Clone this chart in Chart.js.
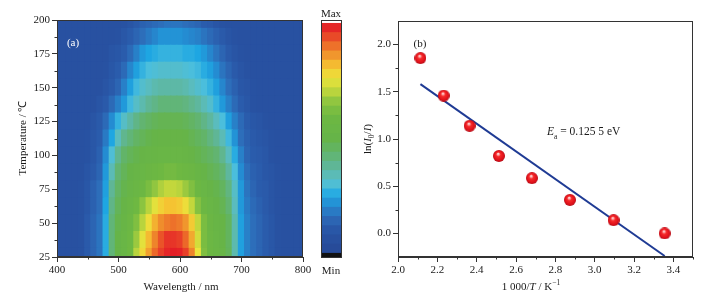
<!DOCTYPE html>
<html>
<head>
<meta charset="utf-8">
<script src="https://cdn.jsdelivr.net/npm/chart.js@4.4.1/dist/chart.umd.min.js"></script>
<style>
  html, body { margin: 0; padding: 0; background: #fff; }
  #wrap { position: relative; width: 705px; height: 299px; overflow: hidden;
          font-family: 'Liberation Serif', 'Times New Roman', serif; color: #1a1a1a; }
  #wrap canvas { position: absolute; }
  .lbl { position: absolute; white-space: nowrap; font-size: 11px; line-height: 1;
         transform: translate(-50%, -50%); }
  .rot { transform: translate(-50%, -50%) rotate(-90deg); }
  .left { transform: translate(0, -50%); font-size: 11.5px; }
  sub, sup { font-size: 7.5px; line-height: 0; }
</style>
</head>
<body>
<div id="wrap">
  <canvas id="heat" width="315" height="299" style="left:0;top:0"></canvas>
  <canvas id="cbar" width="21" height="299" style="left:321px;top:0"></canvas>
  <canvas id="arr" width="355" height="299" style="left:350px;top:0"></canvas>

  <div class="lbl rot" style="left:22px;top:138px">Temperature / ℃</div>
  <div class="lbl" style="left:181px;top:286px">Wavelength / nm</div>
  <div class="lbl" style="left:73px;top:42px;color:#fff">(a)</div>
  <div class="lbl" style="left:331px;top:13px">Max</div>
  <div class="lbl" style="left:331px;top:270px">Min</div>

  <div class="lbl rot" style="left:367px;top:139px">ln(<i>I</i><sub>0</sub>/<i>I</i>)</div>
  <div class="lbl" style="left:531px;top:286px">1 000/<i>T</i> / K<sup>−1</sup></div>
  <div class="lbl" style="left:420px;top:43px">(b)</div>
  <div class="lbl left" style="left:547px;top:132px"><i>E</i><sub>a</sub> = 0.125 5 eV</div>
</div>

<script>
// ---- (a) emission map: wavelength (nm) x temperature (°C), relative intensity 0..1
const wavelengths = [400, 410, 420, 430, 440, 450, 460, 470, 480, 490,
                     500, 510, 520, 530, 540, 550, 560, 570, 580, 590,
                     600, 610, 620, 630, 640, 650, 660, 670, 680, 690,
                     700, 710, 720, 730, 740, 750, 760, 770, 780, 790, 800];
const temps = [25, 37.5, 50, 62.5, 75, 87.5, 100, 112.5, 125, 137.5, 150, 162.5, 175, 187.5, 200];
const intensity = [
  [.07,.07,.07,.07,.08,.11,.14,.17,.26,.42, .50,.54,.60,.70,.78,.85,.91,.95,.98,1.0, .99,.95,.88,.76,.63,.58,.55,.52,.47,.35, .24,.19,.16,.14,.12,.10,.08,.07,.07,.07,.07],
  [.07,.07,.07,.07,.08,.11,.14,.17,.26,.42, .50,.54,.59,.67,.75,.82,.88,.93,.96,.96, .95,.91,.84,.73,.62,.57,.54,.51,.46,.35, .24,.19,.16,.14,.12,.10,.08,.07,.07,.07,.07],
  [.07,.07,.07,.07,.08,.11,.14,.17,.26,.42, .49,.53,.57,.63,.70,.77,.83,.87,.89,.90, .89,.86,.80,.71,.62,.56,.53,.51,.46,.35, .24,.19,.16,.14,.12,.10,.08,.07,.07,.07,.07],
  [.07,.07,.07,.07,.08,.10,.13,.16,.25,.40, .47,.51,.55,.60,.65,.70,.75,.79,.81,.81, .80,.77,.71,.64,.58,.54,.51,.48,.43,.33, .23,.18,.15,.13,.11,.09,.08,.07,.07,.07,.07],
  [.07,.07,.07,.07,.08,.10,.13,.16,.24,.38, .45,.49,.52,.55,.58,.62,.66,.69,.71,.71, .70,.67,.63,.58,.54,.51,.49,.46,.41,.32, .23,.17,.14,.12,.11,.09,.08,.07,.07,.07,.07],
  [.07,.07,.07,.07,.07,.09,.11,.14,.23,.34, .43,.47,.50,.52,.54,.56,.58,.60,.61,.61, .60,.58,.56,.53,.50,.48,.46,.43,.37,.29, .21,.16,.13,.12,.10,.09,.08,.07,.07,.07,.07],
  [.07,.07,.07,.07,.07,.08,.10,.13,.21,.30, .39,.44,.47,.49,.51,.52,.53,.54,.54,.54, .54,.53,.51,.49,.47,.45,.43,.39,.33,.26, .19,.14,.12,.11,.10,.08,.07,.07,.07,.07,.07],
  [.07,.07,.07,.07,.07,.08,.10,.12,.18,.25, .33,.39,.42,.45,.47,.49,.50,.51,.51,.51, .51,.50,.48,.46,.44,.41,.38,.34,.28,.22, .16,.13,.11,.10,.09,.08,.07,.07,.07,.07,.07],
  [.07,.07,.07,.07,.07,.07,.09,.11,.15,.21, .27,.32,.36,.40,.43,.45,.47,.48,.48,.48, .48,.47,.45,.43,.40,.37,.33,.29,.24,.19, .15,.12,.10,.09,.08,.07,.07,.07,.07,.07,.07],
  [.07,.07,.07,.07,.07,.07,.07,.09,.11,.15, .19,.23,.28,.32,.35,.38,.40,.42,.42,.42, .42,.41,.39,.37,.34,.31,.27,.23,.19,.15, .12,.10,.08,.07,.07,.07,.07,.07,.07,.07,.07],
  [.07,.07,.07,.07,.07,.07,.07,.07,.09,.11, .14,.19,.24,.28,.31,.33,.35,.36,.36,.36, .36,.35,.33,.31,.29,.27,.24,.20,.16,.13, .10,.09,.08,.07,.07,.07,.07,.07,.07,.07,.07],
  [.07,.07,.07,.07,.07,.07,.07,.07,.08,.10, .12,.15,.20,.24,.27,.29,.30,.31,.31,.31, .31,.30,.29,.28,.26,.24,.21,.17,.14,.11, .09,.08,.07,.07,.07,.07,.07,.07,.07,.07,.07],
  [.07,.07,.07,.07,.07,.07,.07,.07,.07,.09, .10,.12,.15,.19,.23,.25,.26,.27,.27,.27, .27,.26,.26,.25,.23,.20,.17,.14,.11,.09, .08,.07,.07,.07,.07,.07,.07,.07,.07,.07,.07],
  [.07,.07,.07,.07,.07,.07,.07,.07,.07,.07, .08,.10,.12,.14,.16,.18,.20,.22,.22,.22, .22,.21,.20,.19,.17,.15,.13,.11,.09,.08, .07,.07,.07,.07,.07,.07,.07,.07,.07,.07,.07],
  [.07,.07,.07,.07,.07,.07,.07,.07,.07,.07, .07,.08,.09,.11,.13,.14,.15,.16,.17,.17, .17,.16,.15,.14,.12,.11,.09,.08,.07,.07, .07,.07,.07,.07,.07,.07,.07,.07,.07,.07,.07],
];
const xTicksA = [400, 500, 600, 700, 800];
const xMinorA = [450, 550, 650, 750];
const yTicksA = [25, 50, 75, 100, 125, 150, 175, 200];
const yMinorA = [37.5, 62.5, 87.5, 112.5, 137.5, 162.5, 187.5];

// colour bar levels (Min..Max)
const cbarEdges = [0, .04, .08, .12, .16, .20, .24, .28, .32, .36, .40, .44, .48, .52,
                   .56, .60, .64, .68, .72, .76, .80, .84, .88, .92, .96, 1.0];

// ---- (b) Arrhenius-type fit
const invT = [2.114, 2.232, 2.364, 2.513, 2.681, 2.874, 3.096, 3.356];
const lnRatio = [1.857, 1.46, 1.14, 0.82, 0.585, 0.355, 0.14, 0.0];
const fitX = [2.114, 3.356];
const fitY = [1.582, -0.24];
const xTicksB = [2.0, 2.2, 2.4, 2.6, 2.8, 3.0, 3.2, 3.4];
const xMinorB = [2.1, 2.3, 2.5, 2.7, 2.9, 3.1, 3.3, 3.5];
const yTicksB = [0.0, 0.5, 1.0, 1.5, 2.0];
const yMinorB = [0.25, 0.75, 1.25, 1.75];

// colour map (style)
const cmapStops = [0, 0.08, 0.12, 0.16, 0.21, 0.25, 0.29, 0.33, 0.38, 0.44, 0.50, 0.60, 0.66, 0.71, 0.76, 0.81, 0.86, 0.92, 0.97, 1.0];
const cmapRGB = [[38,72,150],[40,82,162],[42,92,172],[45,110,186],[36,140,210],[30,166,226],[75,190,220],
                 [90,188,190],[95,182,150],[98,180,105],[102,180,72],[110,184,66],[145,198,64],[195,215,60],
                 [235,228,60],[245,195,50],[240,150,45],[235,95,40],[230,42,40],[228,30,38]];

function colormap(v) {
  v = Math.max(0, Math.min(1, v));
  let i = 0;
  while (i < cmapStops.length - 2 && v > cmapStops[i + 1]) i++;
  const t = (v - cmapStops[i]) / (cmapStops[i + 1] - cmapStops[i]);
  const a = cmapRGB[i], b = cmapRGB[i + 1];
  const c = a.map((x, k) => Math.round(x + (b[k] - x) * t));
  return 'rgb(' + c.join(',') + ')';
}

const FONT = {family: "'Liberation Serif', 'Times New Roman', serif", size: 11};
const AXIS = '#333';

const framePlugin = {
  id: 'frame',
  afterDraw(chart) {
    const a = chart.chartArea, ctx = chart.ctx;
    ctx.save();
    ctx.strokeStyle = AXIS;
    ctx.lineWidth = 1;
    ctx.strokeRect(Math.round(a.left) + 0.5, Math.round(a.top) + 0.5,
                   Math.round(a.right - a.left) - 1, Math.round(a.bottom - a.top) - 1);
    ctx.restore();
  }
};

function minorTicks(xs, ys, len) {
  return {
    id: 'minorTicks',
    afterDraw(chart) {
      const {ctx, chartArea: a, scales} = chart;
      ctx.save();
      ctx.strokeStyle = AXIS;
      ctx.lineWidth = 1;
      ctx.beginPath();
      xs.forEach(v => {
        const px = Math.round(scales.x.getPixelForValue(v)) + 0.5;
        ctx.moveTo(px, a.bottom); ctx.lineTo(px, a.bottom + len);
      });
      ys.forEach(v => {
        const py = Math.round(scales.y.getPixelForValue(v)) + 0.5;
        ctx.moveTo(a.left - len, py); ctx.lineTo(a.left, py);
      });
      ctx.stroke();
      ctx.restore();
    }
  };
}

function axis(min, max, majors, fmt, fit) {
  return {
    type: 'linear', min: min, max: max, offset: false,
    afterBuildTicks: s => { s.ticks = majors.map(v => ({value: v})); },
    afterFit: fit,
    grid: {drawOnChartArea: false, drawTicks: true, tickLength: 5, tickColor: AXIS, offset: false},
    border: {display: true, color: AXIS},
    ticks: {font: FONT, color: '#1a1a1a', padding: 2, maxRotation: 0, autoSkip: false, callback: fmt}
  };
}

// ---- (a) heat map drawn as floating bars
const halfRow = 6.25;
const heatSets = temps.map((t, r) => ({
  data: wavelengths.map(w => ({x: w, y: [t - halfRow, t + halfRow]})),
  backgroundColor: intensity[r].map(v => colormap(v)),
  borderWidth: 0,
  barPercentage: 1,
  categoryPercentage: 1,
  grouped: false,
  inflateAmount: 0.6,
  clip: 0
}));

new Chart(document.getElementById('heat'), {
  type: 'bar',
  data: {datasets: heatSets},
  options: {
    responsive: false,
    animation: false,
    events: [],
    layout: {padding: {top: 20, right: 12, left: 0, bottom: 0}},
    plugins: {legend: {display: false}, tooltip: {enabled: false}},
    scales: {
      x: axis(400, 800, xTicksA, v => String(v), s => { s.height = 42; }),
      y: axis(25, 200, yTicksA, v => String(v), s => { s.width = 57; })
    }
  },
  plugins: [framePlugin, minorTicks(xMinorA, yMinorA, 2.5)]
});

// ---- colour bar
const cbarSets = [{
  data: [[-0.02, 0]], backgroundColor: '#111'
}];
for (let i = 0; i < cbarEdges.length - 1; i++) {
  const lo = cbarEdges[i], hi = cbarEdges[i + 1];
  cbarSets.push({data: [[lo, hi]], backgroundColor: colormap((lo + hi) / 2)});
}
cbarSets.push({data: [[1.0, 1.015]], backgroundColor: '#fff'});
cbarSets.forEach(d => Object.assign(d, {
  borderWidth: 0, barPercentage: 1, categoryPercentage: 1, grouped: false, inflateAmount: 0.5, clip: 0
}));

new Chart(document.getElementById('cbar'), {
  type: 'bar',
  data: {labels: [''], datasets: cbarSets},
  options: {
    responsive: false,
    animation: false,
    events: [],
    layout: {padding: {top: 20, bottom: 41, left: 0, right: 0}},
    plugins: {legend: {display: false}, tooltip: {enabled: false}},
    scales: {
      x: {display: false},
      y: {display: false, min: -0.02, max: 1.015}
    }
  },
  plugins: [framePlugin]
});

// ---- (b) scatter + linear fit
function makeSphere(d) {
  const c = document.createElement('canvas');
  c.width = c.height = d;
  const g = c.getContext('2d');
  const r = d / 2;
  const grad = g.createRadialGradient(r * 0.85, r * 0.6, 0, r, r, r);
  grad.addColorStop(0, '#ffffff');
  grad.addColorStop(0.16, '#ffb0b0');
  grad.addColorStop(0.38, '#f62a2a');
  grad.addColorStop(0.8, '#e0101a');
  grad.addColorStop(1, '#b00a14');
  g.fillStyle = grad;
  g.beginPath();
  g.arc(r, r, r, 0, Math.PI * 2);
  g.fill();
  return c;
}
const sphere = makeSphere(12);

new Chart(document.getElementById('arr'), {
  type: 'scatter',
  data: {
    datasets: [
      {
        data: invT.map((x, i) => ({x: x, y: lnRatio[i]})),
        pointStyle: sphere,
        pointRadius: 6,
        showLine: false
      },
      {
        type: 'line',
        data: fitX.map((x, i) => ({x: x, y: fitY[i]})),
        borderColor: '#1f3b94',
        borderWidth: 2,
        pointRadius: 0,
        fill: false,
        showLine: true
      }
    ]
  },
  options: {
    responsive: false,
    animation: false,
    events: [],
    layout: {padding: {top: 21, right: 12, left: 0, bottom: 0}},
    plugins: {legend: {display: false}, tooltip: {enabled: false}},
    scales: {
      x: axis(2.0, 3.5, xTicksB, v => v.toFixed(1), s => { s.height = 42; }),
      y: axis(-0.25, 2.25, yTicksB, v => v.toFixed(1), s => { s.width = 48; })
    }
  },
  plugins: [framePlugin, minorTicks(xMinorB, yMinorB, 2.5)]
});
</script>
</body>
</html>
